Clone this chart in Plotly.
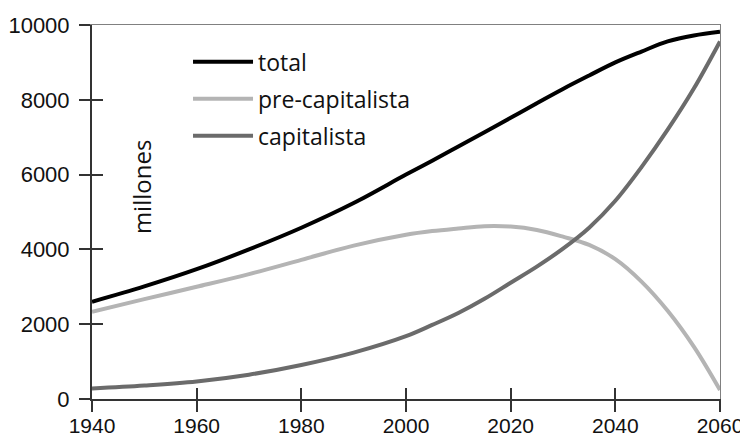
import plotly.graph_objects as go

years = [1940, 1950, 1960, 1970, 1980, 1990, 2000, 2005, 2010, 2015, 2020, 2025,
         2030, 2035, 2040, 2045, 2050, 2055, 2060]
total = [2600, 3010, 3470, 4000, 4580, 5240, 6000, 6370, 6750, 7130, 7520, 7910,
         8290, 8650, 9000, 9290, 9560, 9720, 9820]
pre_capitalista = [2330, 2670, 3000, 3340, 3720, 4100, 4390, 4490, 4560, 4620, 4610, 4520,
                   4340, 4120, 3740, 3140, 2360, 1400, 240]
capitalista = [280, 360, 470, 650, 910, 1240, 1680, 1980, 2300, 2680, 3110, 3540,
               4020, 4580, 5300, 6200, 7200, 8300, 9560]

x_ticks = [1940, 1960, 1980, 2000, 2020, 2040, 2060]
y_ticks = [0, 2000, 4000, 6000, 8000, 10000]
y_tick_labels = ["0", "2000", "4000", "6000", "8000", "10000"]

series = [
    ("total", total, "#000000"),
    ("pre-capitalista", pre_capitalista, "#b4b4b4"),
    ("capitalista", capitalista, "#6b6b6b"),
]

fig = go.Figure()
for name, vals, col in series:
    fig.add_trace(go.Scatter(
        x=years, y=vals, name=name, mode="lines",
        line=dict(color=col, width=4, shape="spline", smoothing=1.0),
        legendgroup=name,
    ))

y_tick_font = dict(family="Liberation Sans", size=22, color="#111111")
x_tick_font = dict(family="Liberation Sans", size=21, color="#111111")
axcol = "#333333"
common = dict(showgrid=False, zeroline=False, automargin=False)

# page body has an 8px margin, so the figure is sized/margined to compensate
fig.update_layout(
    template="none",
    width=740, height=430,
    margin=dict(l=84, r=28, t=17, b=39, pad=0),
    paper_bgcolor="white", plot_bgcolor="white",
    showlegend=True,
    legend=dict(
        x=0.1529, y=0.9588, xanchor="left", yanchor="top",
        font=dict(family="Open Sans", size=23, color="#111111"),
        bgcolor="rgba(0,0,0,0)", borderwidth=0, itemwidth=60,
        traceorder="grouped", tracegroupgap=4,
    ),
    xaxis=dict(
        range=[1940, 2060], tickmode="array", tickvals=x_ticks, ticktext=[str(v) for v in x_ticks],
        ticks="outside", ticklen=11, tickwidth=2, tickcolor=axcol, ticklabelstandoff=-4,
        showline=True, linewidth=2, linecolor=axcol, tickfont=x_tick_font, **common,
    ),
    yaxis=dict(
        range=[0, 10000], tickmode="array", tickvals=y_ticks, ticktext=y_tick_labels,
        ticks="outside", ticklen=11, tickwidth=2, tickcolor=axcol, ticklabelstandoff=5,
        showline=True, linewidth=2, linecolor=axcol, tickfont=y_tick_font, **common,
    ),
    xaxis2=dict(
        overlaying="x", range=[1940, 2060], tickmode="array", tickvals=x_ticks,
        ticks="inside", ticklen=11, tickwidth=2, tickcolor=axcol,
        showticklabels=False, showline=False, side="bottom", **common,
    ),
    yaxis2=dict(
        overlaying="y", range=[0, 10000], tickmode="array", tickvals=y_ticks,
        ticks="inside", ticklen=11, tickwidth=2, tickcolor=axcol,
        showticklabels=False, showline=False, side="left", **common,
    ),
    xaxis3=dict(
        overlaying="x", range=[1940, 2060], side="top",
        showline=True, linewidth=1, linecolor="#808080", ticks="",
        showticklabels=False, **common,
    ),
    yaxis3=dict(
        overlaying="y", range=[0, 10000], side="right",
        showline=True, linewidth=1, linecolor="#808080", ticks="",
        showticklabels=False, **common,
    ),
    annotations=[dict(
        text="millones", xref="paper", yref="paper", x=0.079, y=0.5655,
        xanchor="center", yanchor="middle", textangle=-90, showarrow=False,
        font=dict(family="Open Sans", size=24, color="#111111"),
    )],
)

# invisible helper traces so the overlay axes (inner ticks, frame) are drawn
fig.add_trace(go.Scatter(x=years, y=total, xaxis="x2", yaxis="y2", mode="lines",
                         line=dict(width=0), opacity=0, showlegend=False, hoverinfo="skip"))
fig.add_trace(go.Scatter(x=years, y=total, xaxis="x3", yaxis="y3", mode="lines",
                         line=dict(width=0), opacity=0, showlegend=False, hoverinfo="skip"))

fig.write_html("out.html")
